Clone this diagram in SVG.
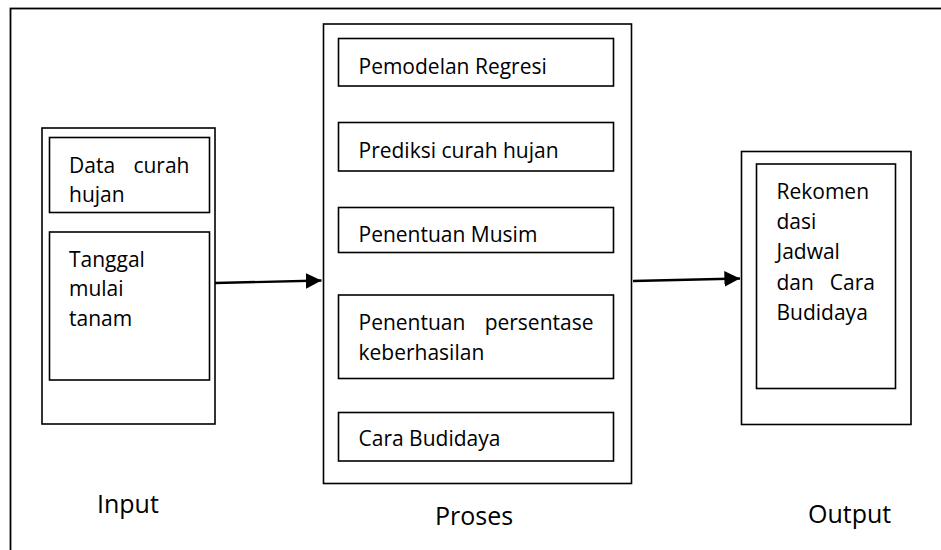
<svg xmlns="http://www.w3.org/2000/svg" width="941" height="550" viewBox="0 0 941 550">
<style>
  .box { fill: #fff; stroke: #000; stroke-width: 1.6; }
  .frame { fill: #fff; stroke: #000; stroke-width: 1.8; }
  .t { font-family: "Open Sans", "Liberation Sans", sans-serif; font-size: 21px; fill: #000; }
  .lbl { font-family: "Open Sans", "Liberation Sans", sans-serif; font-size: 25px; fill: #000; }
  .conn { stroke: #000; stroke-width: 2.4; fill: none; }
</style>
<defs>
  <marker id="arrow" viewBox="0 0 10 10" refX="10" refY="5" markerWidth="6.5" markerHeight="6.5" markerUnits="strokeWidth" orient="auto">
    <path d="M0,0 L10,5 L0,10 z" fill="#000"/>
  </marker>
</defs>
<rect x="0" y="0" width="941" height="550" fill="#fff"/>
<rect class="frame" x="10.5" y="8.5" width="940" height="560"/>

<g id="input">
  <rect class="box" x="42" y="128" width="173" height="296"/>
  <g id="data-curah-hujan">
    <rect class="box" x="49.5" y="137.5" width="160" height="75"/>
    <text class="t" x="69" y="173">Data</text>
    <text class="t" x="189.5" y="173" text-anchor="end">curah</text>
    <text class="t" x="69" y="201.5">hujan</text>
  </g>
  <g id="tanggal-mulai-tanam">
    <rect class="box" x="49.5" y="232" width="160" height="148"/>
    <text class="t" x="69" y="266.5">Tanggal</text>
    <text class="t" x="69" y="295.5">mulai</text>
    <text class="t" x="69" y="325.5">tanam</text>
  </g>
  <text class="lbl" x="97" y="513">Input</text>
</g>

<g id="proses">
  <rect class="box" x="323.5" y="24" width="308" height="459.5"/>
  <g id="pemodelan-regresi">
    <rect class="box" x="338.5" y="38.5" width="275" height="47.5"/>
    <text class="t" x="358.5" y="74">Pemodelan Regresi</text>
  </g>
  <g id="prediksi-curah-hujan">
    <rect class="box" x="338.5" y="122.5" width="275" height="48.5"/>
    <text class="t" x="358.5" y="157.5">Prediksi curah hujan</text>
  </g>
  <g id="penentuan-musim">
    <rect class="box" x="338.5" y="207.5" width="275" height="45"/>
    <text class="t" x="358.5" y="242">Penentuan Musim</text>
  </g>
  <g id="penentuan-persentase">
    <rect class="box" x="338.5" y="295" width="275" height="83.5"/>
    <text class="t" x="358.5" y="330">Penentuan</text>
    <text class="t" x="593.5" y="330" text-anchor="end">persentase</text>
    <text class="t" x="358.5" y="359.5">keberhasilan</text>
  </g>
  <g id="cara-budidaya">
    <rect class="box" x="338.5" y="412.5" width="275" height="48.5"/>
    <text class="t" x="358.5" y="446">Cara Budidaya</text>
  </g>
  <text class="lbl" x="435" y="525">Proses</text>
</g>

<g id="output">
  <rect class="box" x="741.5" y="151.5" width="169.5" height="273"/>
  <g id="rekomendasi">
    <rect class="box" x="756.5" y="164" width="139" height="224.5"/>
    <text class="t" x="776.5" y="199">Rekomen</text>
    <text class="t" x="776.5" y="229">dasi</text>
    <text class="t" x="776.5" y="259">Jadwal</text>
    <text class="t" x="776.5" y="290">dan</text>
    <text class="t" x="875" y="290" text-anchor="end">Cara</text>
    <text class="t" x="776.5" y="320">Budidaya</text>
  </g>
  <text class="lbl" x="808" y="523">Output</text>
</g>

<g id="connectors">
  <line class="conn" x1="215" y1="283" x2="321.5" y2="280.5" marker-end="url(#arrow)"/>
  <line class="conn" x1="633" y1="281" x2="740" y2="278.5" marker-end="url(#arrow)"/>
</g>
</svg>
